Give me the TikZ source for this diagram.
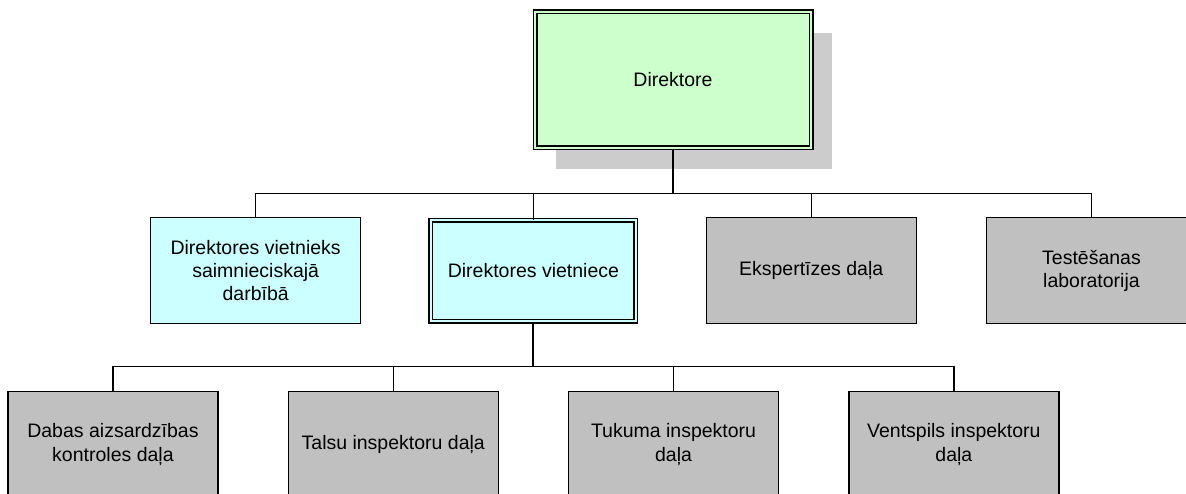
\documentclass[tikz,border=0pt]{standalone}
\usepackage{fontspec}
\setmainfont{Liberation Sans}
\usepackage{tikz}
\usetikzlibrary{positioning,calc,shadows}
\definecolor{mint}{HTML}{CCFFCC}
\definecolor{aqua}{HTML}{CCFFFF}
\definecolor{silver}{HTML}{C0C0C0}
\definecolor{shade}{HTML}{CCCCCC}

\begin{document}
\begin{tikzpicture}[
  font=\fontsize{19.5}{23.3}\selectfont,
  unit/.style={
    draw=black,
    line width=1.3pt,
    shape=rectangle,
    align=center,
    inner sep=0pt,
    minimum width=210pt,
    minimum height=106pt,
  },
  head/.style={
    line width=1.2pt,
    double=#1,
    double distance=2.6pt,
    minimum width=205pt,
    minimum height=101pt,
  },
  line/.style={
    line width=1.3pt,
    draw=black,
  },
  trunk/.style={
    line width=2pt,
    draw=black,
  }]
  \useasboundingbox (0,0) rectangle (1186pt,493pt);
  \node[unit, head=mint, fill=mint, minimum width=276pt, minimum height=136pt,
    drop shadow={shadow xshift=21pt, shadow yshift=-21pt, fill=shade, opacity=1}]
    (DIR) at (673pt,413pt) {Direktore};
  \node[unit, head=aqua, fill=aqua, below left=71pt and 36.5pt of DIR.south] (VIETNIECE) {Direktores vietniece};
  \node[unit, fill=aqua, left=69pt of VIETNIECE] (VIETNIEKS) {Direktores vietnieks\\saimnieciskajā\\darbībā};
  \node[unit, fill=silver, right=69pt of VIETNIECE] (EKSP) {Ekspertīzes daļa};
  \node[unit, fill=silver, right=69pt of EKSP] (LAB) {Testēšanas\\laboratorija};
  \node[unit, fill=silver, below left=69pt and 34.5pt of VIETNIECE.south] (TALSI) {Talsu inspektoru daļa};
  \node[unit, fill=silver, left=69pt of TALSI] (DABA) {Dabas aizsardzības\\kontroles daļa};
  \node[unit, fill=silver, below right=69pt and 34.5pt of VIETNIECE.south] (TUKUMS) {Tukuma inspektoru\\daļa};
  \node[unit, fill=silver, right=69pt of TUKUMS] (VENTSPILS) {Ventspils inspektoru\\daļa};
  \coordinate (BUS1) at ($(DIR.south)+(0,-45pt)$);
  \coordinate (BUS2) at ($(VIETNIECE.south)+(0,-45pt)$);
  \draw[trunk] (DIR.south) -- (BUS1);
  \draw[trunk] (VIETNIECE.south) -- (BUS2);
  \foreach \n in {VIETNIEKS,VIETNIECE,EKSP,LAB}
    \draw[line] (BUS1) -| (\n.north);
  \foreach \n in {DABA,TALSI,TUKUMS,VENTSPILS}
    \draw[line] (BUS2) -| (\n.north);
\end{tikzpicture}
\end{document}
